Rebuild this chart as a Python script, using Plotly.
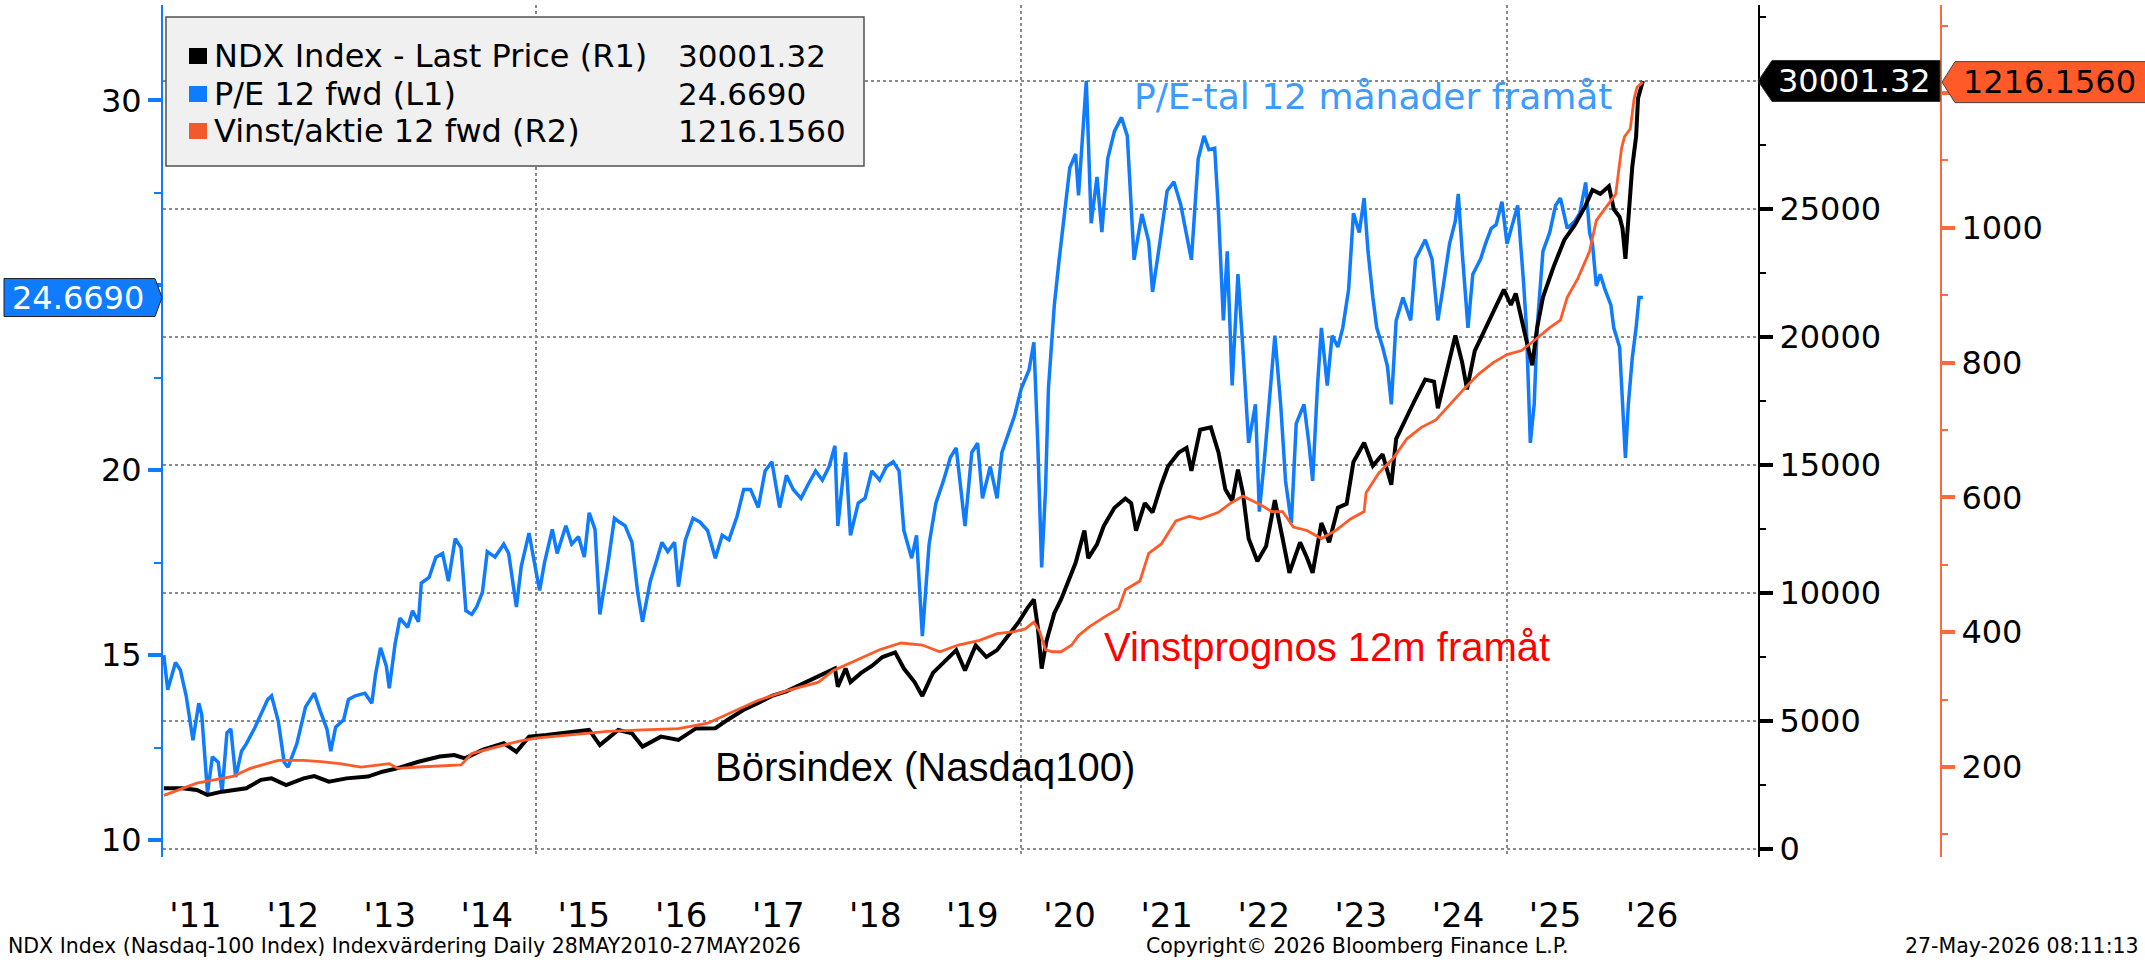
import numpy as np
import pandas as pd
import plotly.graph_objs as go

# ---- data (decimal years) ----
pe_t = [2011.17, 2011.21, 2011.29, 2011.34, 2011.40, 2011.47, 2011.53, 2011.56, 2011.62, 2011.67,
        2011.73, 2011.77, 2011.82, 2011.86, 2011.91, 2011.97, 2012.02, 2012.11, 2012.24, 2012.28,
        2012.35, 2012.41, 2012.45, 2012.54, 2012.63, 2012.72, 2012.78, 2012.85, 2012.89, 2012.94,
        2013.02, 2013.07, 2013.14, 2013.24, 2013.31, 2013.35, 2013.40, 2013.46, 2013.49, 2013.55,
        2013.60, 2013.68, 2013.73, 2013.79, 2013.82, 2013.90, 2013.97, 2014.04, 2014.10, 2014.17,
        2014.23, 2014.28, 2014.34, 2014.39, 2014.45, 2014.50, 2014.58, 2014.67, 2014.72, 2014.80,
        2014.85, 2014.93, 2015.00, 2015.04, 2015.09, 2015.17, 2015.22, 2015.31, 2015.37, 2015.44,
        2015.50, 2015.55, 2015.61, 2015.66, 2015.74, 2015.81, 2015.86, 2015.92, 2015.99, 2016.05,
        2016.10, 2016.18, 2016.25, 2016.30, 2016.36, 2016.43, 2016.47, 2016.54, 2016.62, 2016.69,
        2016.77, 2016.85, 2016.92, 2016.99, 2017.07, 2017.14, 2017.21, 2017.29, 2017.36, 2017.43,
        2017.51, 2017.58, 2017.65, 2017.73, 2017.80, 2017.88, 2017.95, 2018.02, 2018.08, 2018.11,
        2018.19, 2018.24, 2018.32, 2018.39, 2018.46, 2018.54, 2018.61, 2018.68, 2018.74, 2018.79,
        2018.87, 2018.92, 2018.98, 2019.05, 2019.12, 2019.20, 2019.27, 2019.33, 2019.42, 2019.49,
        2019.55, 2019.60, 2019.68, 2019.75, 2019.80, 2019.86, 2019.93, 2020.00, 2020.08, 2020.13,
        2020.17, 2020.21, 2020.25, 2020.28, 2020.34, 2020.39, 2020.45, 2020.50, 2020.56, 2020.59,
        2020.67, 2020.72, 2020.78, 2020.83, 2020.89, 2020.96, 2021.03, 2021.09, 2021.16, 2021.24,
        2021.31, 2021.35, 2021.42, 2021.50, 2021.57, 2021.64, 2021.75, 2021.82, 2021.88, 2021.93,
        2021.99, 2022.03, 2022.08, 2022.12, 2022.17, 2022.23, 2022.28, 2022.34, 2022.41, 2022.45,
        2022.50, 2022.58, 2022.61, 2022.67, 2022.72, 2022.78, 2022.83, 2022.91, 2022.96, 2023.00,
        2023.05, 2023.09, 2023.15, 2023.20, 2023.26, 2023.31, 2023.37, 2023.42, 2023.48, 2023.53,
        2023.57, 2023.62, 2023.66, 2023.72, 2023.77, 2023.81, 2023.86, 2023.93, 2024.01, 2024.06,
        2024.16, 2024.23, 2024.29, 2024.34, 2024.41, 2024.47, 2024.50, 2024.54, 2024.60, 2024.65,
        2024.73, 2024.78, 2024.84, 2024.89, 2024.95, 2025.00, 2025.06, 2025.11, 2025.17, 2025.20,
        2025.24, 2025.28, 2025.31, 2025.37, 2025.44, 2025.50, 2025.55, 2025.62, 2025.70, 2025.75,
        2025.81, 2025.85, 2025.88, 2025.92, 2025.96, 2026.01, 2026.07, 2026.10, 2026.16, 2026.19,
        2026.22, 2026.25, 2026.29, 2026.33, 2026.36, 2026.40]
pe_vals = [15.0, 14.06, 14.8, 14.6, 13.9, 12.7, 13.7, 13.4, 11.27, 12.25,
           12.1, 11.3, 12.9, 13.0, 11.7, 12.4, 12.6, 13.05, 13.8, 13.9,
           13.2, 12.1, 11.97, 12.6, 13.6, 13.97, 13.5, 13.0, 12.4, 13.05,
           13.25, 13.8, 13.9, 13.97, 13.7, 14.5, 15.2, 14.7, 14.1, 15.3,
           16.0, 15.75, 16.2, 15.9, 16.95, 17.1, 17.65, 17.75, 17.0, 18.15,
           17.9, 16.2, 16.1, 16.3, 16.7, 17.8, 17.65, 18.0, 17.75, 16.3,
           17.4, 18.3, 17.3, 16.75, 17.5, 18.4, 17.75, 18.5, 18.0, 18.2,
           17.65, 18.85, 18.4, 16.1, 17.4, 18.7, 18.6, 18.5, 18.05, 16.7,
           15.9, 17.0, 17.6, 18.05, 17.8, 18.05, 16.85, 18.1, 18.7, 18.6,
           18.37, 17.62, 18.24, 18.12, 18.74, 19.48, 19.48, 18.99, 19.98, 20.23,
           18.99, 19.86, 19.48, 19.24, 19.6, 19.98, 19.73, 20.1, 20.66, 18.49,
           20.48, 18.24, 19.11, 19.24, 19.98, 19.73, 20.1, 20.23, 19.98, 18.37,
           17.62, 18.24, 15.51, 17.99, 19.11, 19.73, 20.35, 20.6, 18.49, 20.48,
           20.73, 19.24, 20.1, 19.24, 20.48, 20.97, 21.47, 22.21, 22.71, 23.46,
           20.73, 17.37, 19.48, 22.21, 24.45, 25.69, 27.06, 28.18, 28.55, 27.43,
           30.53, 26.68, 27.93, 26.44, 28.42, 29.17, 29.54, 29.04, 25.69, 26.93,
           26.19, 24.82, 26.06, 27.55, 27.8, 27.18, 25.69, 28.42, 29.04, 28.67,
           28.71, 26.95, 24.05, 25.92, 22.29, 25.3, 23.33, 20.74, 21.78, 18.88,
           20.22, 22.81, 23.64, 21.78, 19.71, 18.57, 21.26, 21.78, 20.74, 19.71,
           22.29, 23.85, 22.29, 23.64, 23.33, 23.85, 24.88, 26.95, 26.43, 27.36,
           25.92, 24.67, 23.85, 23.33, 22.81, 21.78, 24.05, 24.67, 24.05, 25.71,
           26.23, 25.71, 24.05, 24.88, 26.12, 26.74, 27.47, 25.92, 23.85, 25.3,
           25.71, 26.12, 26.54, 26.64, 27.26, 26.12, 26.74, 27.16, 25.09, 23.85,
           20.74, 21.78, 23.85, 25.92, 26.43, 27.16, 27.36, 26.54, 26.74, 26.95,
           27.78, 26.43, 26.12, 24.98, 25.3, 24.88, 24.47, 23.85, 23.33, 21.78,
           20.33, 21.78, 23.02, 23.85, 24.67, 24.669]

ndx_t = [2011.17, 2011.36, 2011.51, 2011.62, 2011.77, 2011.88, 2012.02, 2012.17, 2012.28, 2012.43,
         2012.61, 2012.72, 2012.87, 2013.05, 2013.27, 2013.42, 2013.57, 2013.79, 2014.01, 2014.16,
         2014.27, 2014.45, 2014.67, 2014.80, 2014.93, 2015.11, 2015.37, 2015.55, 2015.66, 2015.85,
         2015.99, 2016.10, 2016.29, 2016.47, 2016.65, 2016.85, 2016.99, 2017.14, 2017.29, 2017.43,
         2017.58, 2017.73, 2017.88, 2018.02, 2018.08, 2018.11, 2018.19, 2018.24, 2018.35, 2018.46,
         2018.57, 2018.70, 2018.79, 2018.90, 2018.98, 2019.09, 2019.23, 2019.33, 2019.42, 2019.53,
         2019.64, 2019.75, 2019.86, 2019.97, 2020.06, 2020.13, 2020.17, 2020.21, 2020.26, 2020.34,
         2020.41, 2020.48, 2020.56, 2020.65, 2020.69, 2020.78, 2020.85, 2020.96, 2021.07, 2021.13,
         2021.18, 2021.27, 2021.35, 2021.44, 2021.51, 2021.62, 2021.70, 2021.75, 2021.84, 2021.95,
         2022.03, 2022.10, 2022.17, 2022.23, 2022.28, 2022.34, 2022.43, 2022.52, 2022.61, 2022.69,
         2022.76, 2022.87, 2022.94, 2023.00, 2023.09, 2023.17, 2023.26, 2023.35, 2023.42, 2023.53,
         2023.62, 2023.72, 2023.81, 2023.86, 2023.95, 2024.05, 2024.16, 2024.25, 2024.29, 2024.38,
         2024.47, 2024.54, 2024.59, 2024.67, 2024.78, 2024.89, 2024.97, 2025.04, 2025.09, 2025.17,
         2025.26, 2025.31, 2025.37, 2025.48, 2025.59, 2025.70, 2025.81, 2025.88, 2025.96, 2026.05,
         2026.10, 2026.16, 2026.19, 2026.22, 2026.25, 2026.29, 2026.33, 2026.35, 2026.40]
ndx_vals = [2370, 2370, 2305, 2110, 2240, 2305, 2370, 2700, 2760, 2500,
            2760, 2850, 2630, 2760, 2830, 3020, 3150, 3410, 3610, 3670,
            3540, 3870, 4130, 3800, 4390, 4450, 4580, 4650, 4060, 4650,
            4520, 4000, 4390, 4260, 4710, 4720, 5080, 5440, 5710, 5980,
            6160, 6430, 6700, 6970, 7050, 6340, 7050, 6520, 6880, 7150,
            7500, 7680, 7050, 6520, 5980, 6880, 7420, 7770, 6970, 7950,
            7500, 7770, 8310, 8850, 9390, 9750, 8670, 7050, 8130, 9210,
            9750, 10460, 11180, 12440, 11360, 11900, 12620, 13330, 13690, 13510,
            12440, 13510, 13150, 14230, 14950, 15490, 15670, 14770, 16380, 16470,
            15490, 14050, 13600, 14820, 13930, 12130, 11240, 11830, 13630, 12130,
            10790, 11980, 11390, 10790, 12730, 11980, 13330, 13480, 15120, 15870,
            14970, 15420, 14230, 16020, 16770, 17510, 18340, 18260, 17220, 18710,
            20060, 19010, 17960, 19460, 20360, 21250, 21850, 21250, 21700, 20360,
            18900, 20360, 21550, 22750, 23790, 24390, 25140, 25740, 25590, 25890,
            24990, 24690, 24240, 23050, 24540, 26630, 27830, 29330, 30001.32]

eps_t = [2011.17, 2011.51, 2011.88, 2012.06, 2012.35, 2012.61, 2012.79, 2012.98, 2013.20, 2013.49,
         2013.58, 2013.79, 2014.23, 2014.34, 2014.60, 2014.82, 2015.00, 2015.37, 2015.74, 2016.10,
         2016.47, 2016.77, 2016.88, 2016.99, 2017.29, 2017.58, 2017.91, 2018.06, 2018.17, 2018.35,
         2018.54, 2018.76, 2018.98, 2019.16, 2019.35, 2019.57, 2019.75, 2019.93, 2020.04, 2020.13,
         2020.19, 2020.25, 2020.32, 2020.41, 2020.52, 2020.59, 2020.70, 2020.85, 2021.00, 2021.07,
         2021.22, 2021.31, 2021.44, 2021.59, 2021.73, 2021.84, 2022.03, 2022.14, 2022.28, 2022.45,
         2022.58, 2022.69, 2022.80, 2022.94, 2023.09, 2023.24, 2023.39, 2023.53, 2023.55, 2023.68,
         2023.83, 2023.97, 2024.12, 2024.27, 2024.41, 2024.56, 2024.71, 2024.86, 2025.00, 2025.15,
         2025.30, 2025.44, 2025.55, 2025.62, 2025.73, 2025.85, 2025.92, 2026.03, 2026.12, 2026.18,
         2026.21, 2026.27, 2026.31, 2026.34, 2026.40]
eps_vals = [158, 176, 186, 198, 210, 210, 208, 205, 200, 205,
            198, 200, 203, 220, 230, 238, 243, 248, 253, 255,
            257, 265, 272, 280, 299, 313, 326, 343, 350, 361,
            374, 384, 381, 371, 381, 388, 398, 401, 405, 415,
            401, 374, 371, 371, 381, 395, 408, 422, 435, 463,
            476, 517, 531, 565, 572, 568, 578, 590, 602, 590,
            579, 579, 556, 551, 539, 551, 568, 579, 607, 636,
            658, 687, 704, 715, 738, 761, 783, 800, 812, 818,
            835, 852, 863, 897, 925, 965, 1011, 1033, 1050, 1118,
            1135, 1147, 1192, 1209, 1216.156]

year_ticks = list(range(2011, 2027))
year_labels = ["'" + str(y)[2:] for y in year_ticks]
pe_ticks = [10, 15, 20, 25, 30]
ndx_ticks = [0, 5000, 10000, 15000, 20000, 25000, 30000]
eps_ticks = [200, 400, 600, 800, 1000, 1200]

BLUE = '#0F7BFF'
ORANGE = '#FF5A28'
FONT = 'DejaVu Sans'
NARROW = 'Liberation Sans'


def to_date(ts):
    out = []
    for v in ts:
        y = int(v)
        out.append(pd.Timestamp(year=y, month=1, day=1) + pd.Timedelta(days=(v - y) * 365.25))
    return out


def tick_text(ticks, hidden):
    # labels sitting under a last-value tag are covered in the original, leave them blank
    return ['' if v in hidden else str(v) for v in ticks]


# page geometry (pixels)
W, H = 2145, 967
ML, MR, MT, MB = 163, 204, 5, 110
PW, PH = W - ML - MR, H - MT - MB
xdom_end = (1758 - ML) / PW


def px(x):
    return (x - ML) / PW


def py(y):
    return (H - MB - y) / PH


fig = go.Figure()

fig.add_trace(go.Scatter(x=to_date(ndx_t), y=ndx_vals, yaxis='y2', mode='lines',
                         line=dict(color='black', width=4), name='NDX Index - Last Price (R1)'))
fig.add_trace(go.Scatter(x=to_date(eps_t), y=eps_vals, yaxis='y3', mode='lines',
                         line=dict(color=ORANGE, width=2.8), name='Vinst/aktie 12 fwd (R2)'))
fig.add_trace(go.Scatter(x=to_date(pe_t), y=pe_vals, yaxis='y', mode='lines',
                         line=dict(color=BLUE, width=3.5), name='P/E 12 fwd (L1)'))

tickfont = dict(family=FONT, size=32, color='black')

fig.update_layout(
    width=W, height=H, showlegend=False,
    margin=dict(l=ML, r=MR, t=MT, b=MB, autoexpand=False),
    plot_bgcolor='white', paper_bgcolor='white',
    xaxis=dict(domain=[0, xdom_end], range=['2011-03-01', '2027-08-03'], automargin=False,
               tickmode='array', tickvals=[f'{y}-07-01' for y in year_ticks], ticktext=year_labels,
               showgrid=False, showline=False, zeroline=False, ticks='',
               tickfont=dict(family=FONT, size=34, color='black'), ticklabelstandoff=35,
               minor=dict(tickmode='array', tickvals=['2015-01-01', '2020-01-01', '2025-01-01'],
                          showgrid=True, gridcolor='#8a8a8a', gridwidth=1.5, griddash='dot', ticks='')),
    yaxis=dict(range=[9.54, 32.58], side='left', anchor='x', showgrid=False, zeroline=False,
               automargin=False, showline=True, linecolor=BLUE, linewidth=2,
               tickmode='array', tickvals=pe_ticks, ticktext=tick_text(pe_ticks, [25]),
               ticks='outside', ticklen=13, tickwidth=4, tickcolor=BLUE, tickfont=tickfont,
               minor=dict(tickmode='array', tickvals=[12.5, 17.5, 22.5, 27.5], ticks='outside',
                          ticklen=7, tickwidth=1.5, tickcolor=BLUE)),
    yaxis2=dict(range=[-312, 32969], side='right', anchor='x', overlaying='y', zeroline=False,
                automargin=False, showline=True, linecolor='black', linewidth=2,
                tickmode='array', tickvals=ndx_ticks, ticktext=tick_text(ndx_ticks, [30000]),
                ticks='outside', ticklen=13, tickwidth=4, tickcolor='black', tickfont=tickfont,
                showgrid=True, gridcolor='#8a8a8a', gridwidth=1.5, griddash='dot',
                minor=dict(tickmode='array', tickvals=[2500, 7500, 12500, 17500, 22500, 27500, 32500],
                           ticks='outside', ticklen=6, tickwidth=1.5, tickcolor='black')),
    yaxis3=dict(range=[66.5, 1330.6], side='right', anchor='free', position=1.0, overlaying='y',
                automargin=False, showgrid=False, zeroline=False, showline=True,
                linecolor='#FF6A3D', linewidth=2,
                tickmode='array', tickvals=eps_ticks, ticktext=tick_text(eps_ticks, [1200]),
                ticks='outside', ticklen=13, tickwidth=4, tickcolor='#FF6A3D', tickfont=tickfont,
                minor=dict(tickmode='array', tickvals=[100, 300, 500, 700, 900, 1100, 1300],
                           ticks='outside', ticklen=6, tickwidth=1.5, tickcolor='#FF6A3D')),
)

shapes = []
annotations = []

# legend box
shapes.append(dict(type='rect', xref='paper', yref='paper', x0=px(166), x1=px(864), y0=py(166), y1=py(17),
                   fillcolor='#F0F0F0', line=dict(color='#505050', width=1.5), layer='above'))
legend_rows = [('NDX Index - Last Price (R1)', f'{ndx_vals[-1]:.2f}', 'black', 56),
               ('P/E 12 fwd (L1)', f'{pe_vals[-1]:.4f}', BLUE, 94),
               ('Vinst/aktie 12 fwd (R2)', f'{eps_vals[-1]:.4f}', '#F4592B', 131)]
for label, val, col, yc in legend_rows:
    shapes.append(dict(type='rect', xref='paper', yref='paper', x0=px(189), x1=px(207),
                       y0=py(yc + 8), y1=py(yc - 8), fillcolor=col, line=dict(width=0), layer='above'))
    annotations.append(dict(xref='paper', yref='paper', x=px(212), y=py(yc), text=label, showarrow=False,
                            xanchor='left', yanchor='middle', font=dict(family=FONT, size=32, color='black')))
    annotations.append(dict(xref='paper', yref='paper', x=px(676), y=py(yc), text=val, showarrow=False,
                            xanchor='left', yanchor='middle', font=dict(family=FONT, size=31, color='black')))

# last-value tags on the axes
shapes.append(dict(type='path', xref='paper', yref='y', xsizemode='pixel', ysizemode='pixel',
                   xanchor=0, yanchor=pe_vals[-1], layer='above',
                   path='M -1,0 L -8,19 L -159,19 L -159,-19 L -8,-19 Z',
                   fillcolor=BLUE, line=dict(color='#222222', width=1)))
annotations.append(dict(xref='paper', yref='y', x=0, y=pe_vals[-1], xshift=-17, text=f'{pe_vals[-1]:.4f}',
                        showarrow=False, xanchor='right', yanchor='middle',
                        font=dict(family=FONT, size=32, color='white')))
shapes.append(dict(type='path', xref='paper', yref='y2', xsizemode='pixel', ysizemode='pixel',
                   xanchor=xdom_end, yanchor=ndx_vals[-1], layer='above',
                   path='M 0,0 L 14,20.5 L 182,20.5 L 182,-20.5 L 14,-20.5 Z',
                   fillcolor='black', line=dict(color='#333333', width=1)))
annotations.append(dict(xref='paper', yref='y2', x=xdom_end, y=ndx_vals[-1], xshift=18,
                        text=f'{ndx_vals[-1]:.2f}', showarrow=False, xanchor='left', yanchor='middle',
                        font=dict(family=FONT, size=32, color='white')))
shapes.append(dict(type='path', xref='paper', yref='y3', xsizemode='pixel', ysizemode='pixel',
                   xanchor=1.0, yanchor=eps_vals[-1], layer='above',
                   path='M 1,0 L 14,20.5 L 210,20.5 L 210,-20.5 L 14,-20.5 Z',
                   fillcolor='#FF5A28', line=dict(color='#444444', width=1)))
annotations.append(dict(xref='paper', yref='y3', x=1.0, y=eps_vals[-1], xshift=20,
                        text=f'{eps_vals[-1]:.4f}', showarrow=False, xanchor='left', yanchor='middle',
                        font=dict(family=FONT, size=32, color='black')))

# chart labels
annotations.append(dict(xref='paper', yref='paper', x=px(1614), y=py(96), text='P/E-tal 12 månader framåt',
                        showarrow=False, xanchor='right', yanchor='middle',
                        font=dict(family=FONT, size=36, color='#3D9BFF')))
annotations.append(dict(xref='paper', yref='paper', x=px(1102), y=py(647), text='Vinstprognos 12m framåt',
                        showarrow=False, xanchor='left', yanchor='middle',
                        font=dict(family=NARROW, size=40, color='#FF0000')))
annotations.append(dict(xref='paper', yref='paper', x=px(713), y=py(767), text='Börsindex (Nasdaq100)',
                        showarrow=False, xanchor='left', yanchor='middle',
                        font=dict(family=NARROW, size=40, color='black')))

# footer
foot = dict(family=FONT, size=20.5, color='black')
annotations.append(dict(xref='paper', yref='paper', x=px(6), y=py(946), showarrow=False, xanchor='left',
                        yanchor='middle', font=foot,
                        text='NDX Index (Nasdaq-100 Index) Indexvärdering Daily 28MAY2010-27MAY2026'))
annotations.append(dict(xref='paper', yref='paper', x=px(1144), y=py(946), showarrow=False, xanchor='left',
                        yanchor='middle', font=foot, text='Copyright© 2026 Bloomberg Finance L.P.'))
annotations.append(dict(xref='paper', yref='paper', x=px(2141), y=py(946), showarrow=False, xanchor='right',
                        yanchor='middle', font=foot, text='27-May-2026 08:11:13'))

fig.update_layout(shapes=shapes, annotations=annotations)

# the page body has a default 8px margin; drop it so the figure sits at the window origin
fig.write_html("out.html", config={'displayModeBar': False},
               post_script="document.body.style.margin='0';")
